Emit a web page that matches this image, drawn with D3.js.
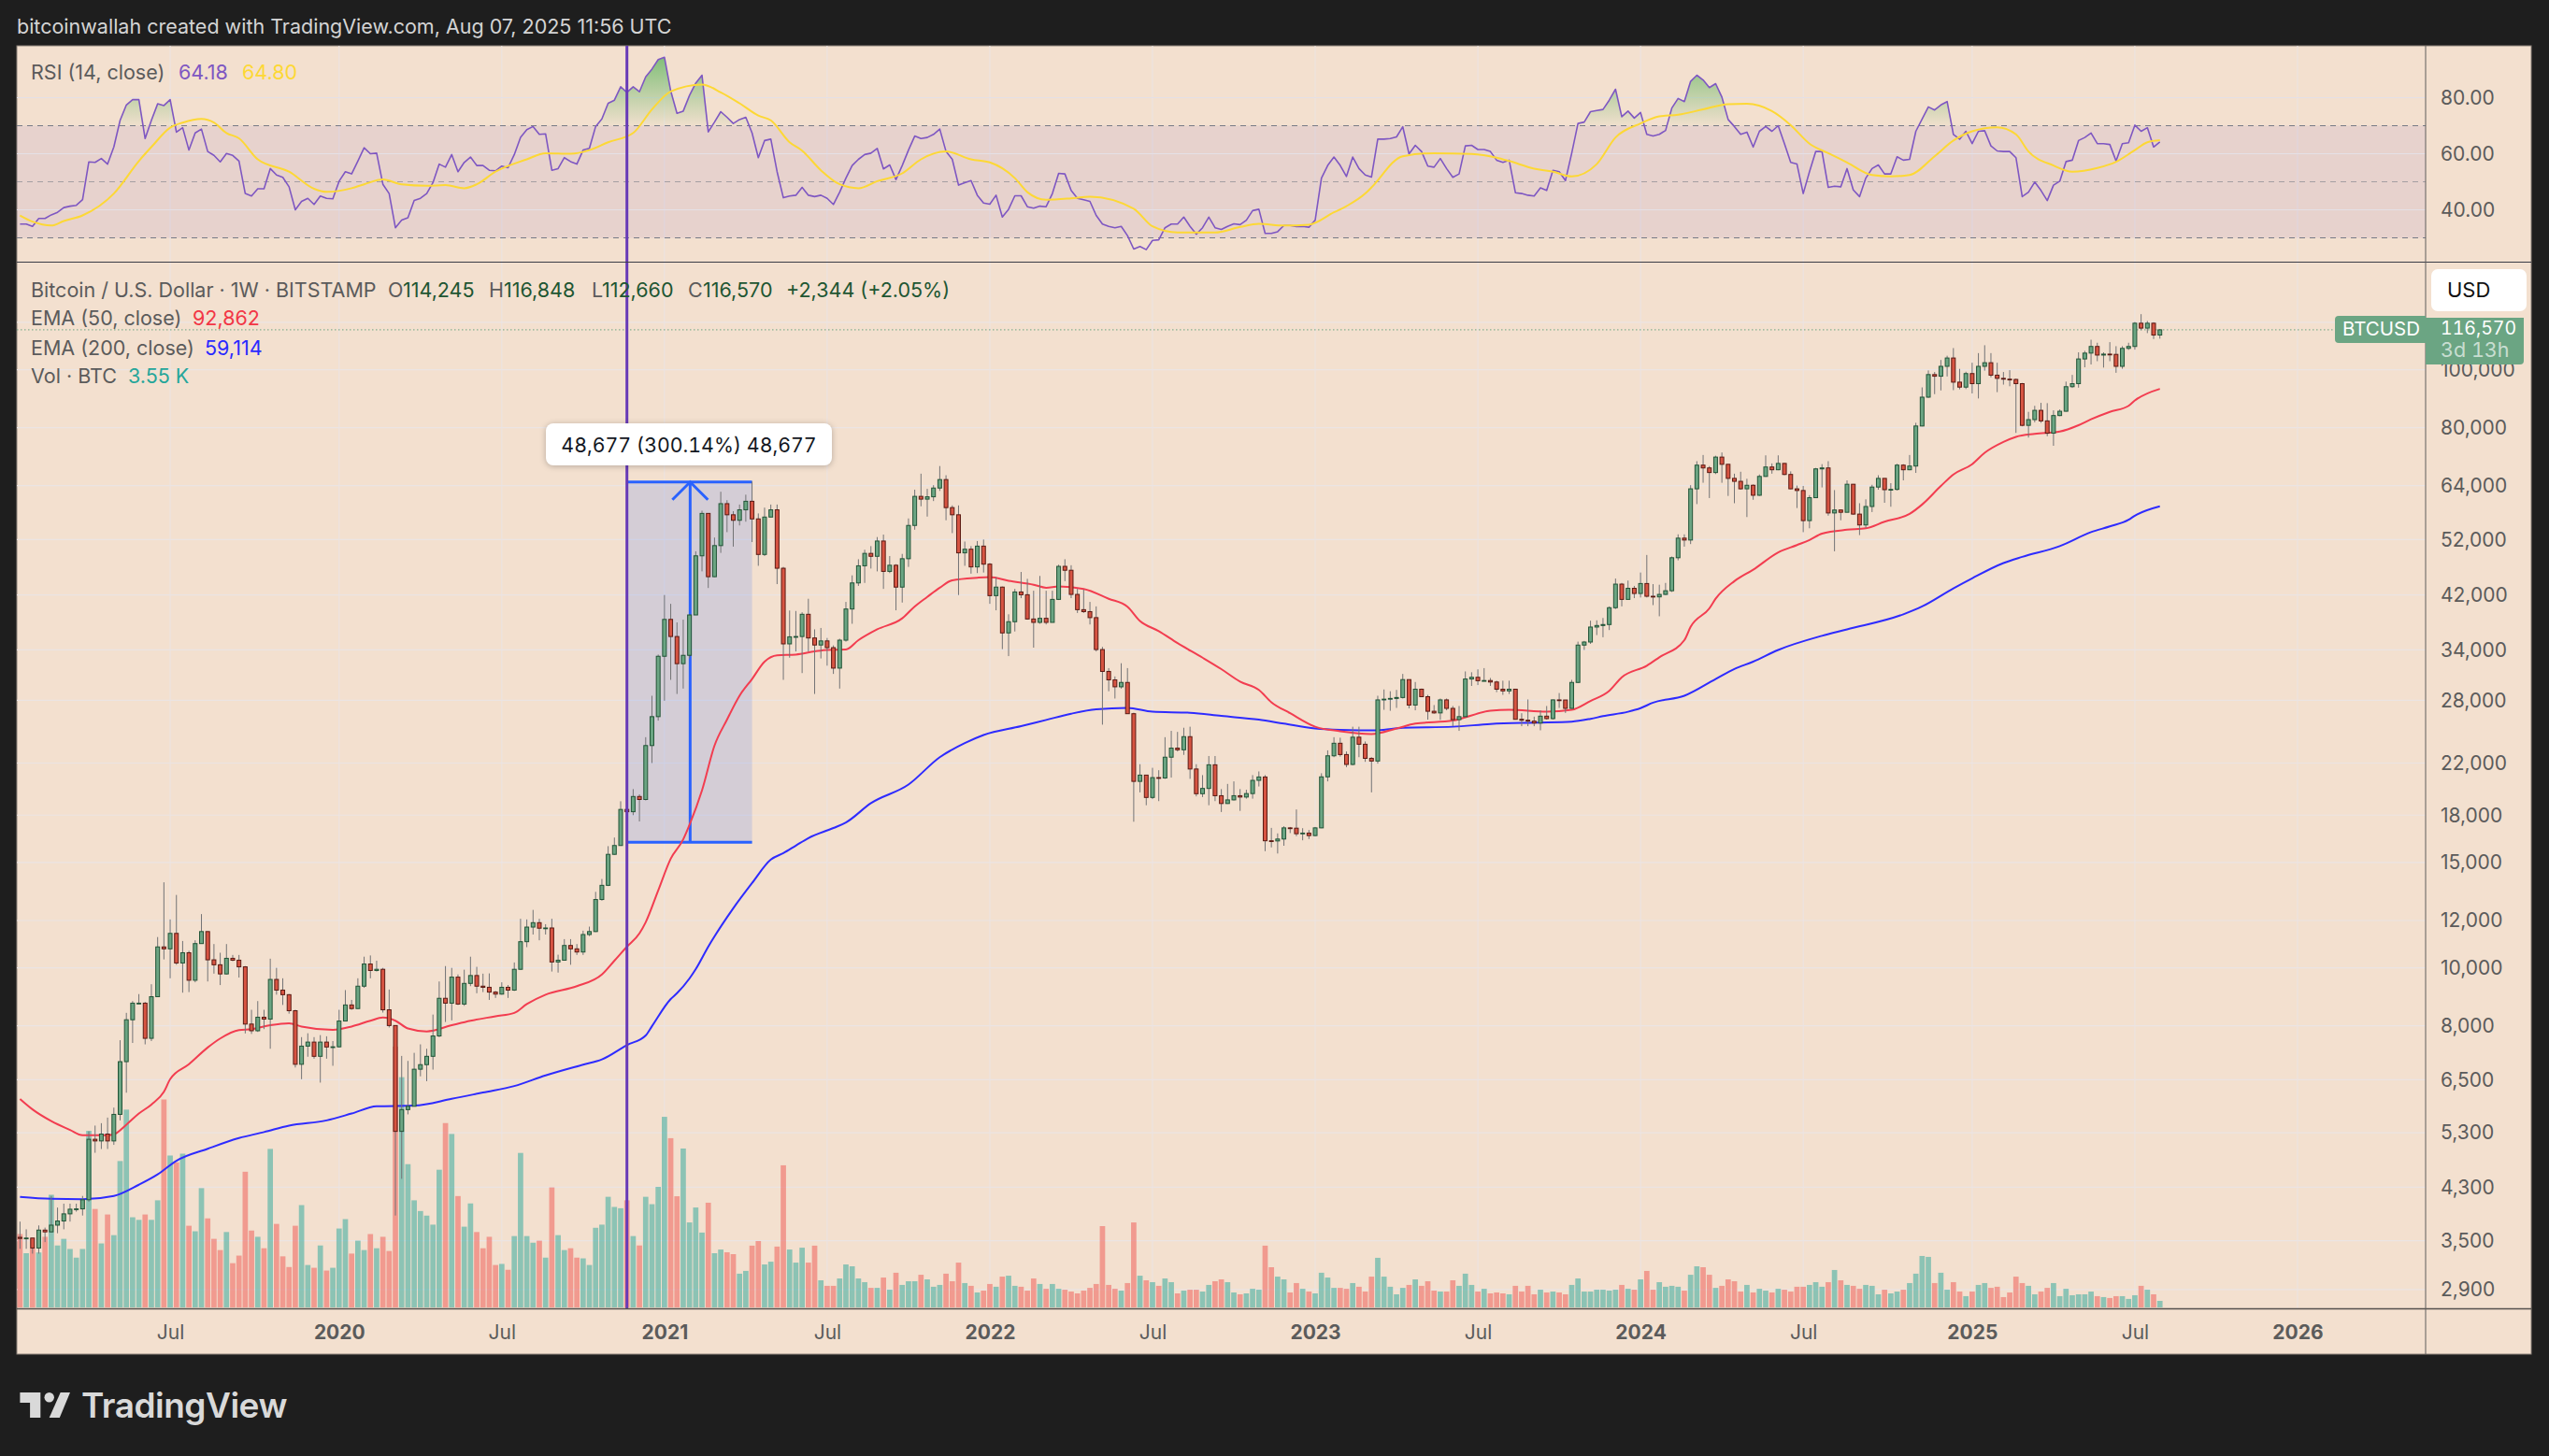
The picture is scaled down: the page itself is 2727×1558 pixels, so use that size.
<!DOCTYPE html>
<html><head><meta charset="utf-8">
<script src="https://cdn.jsdelivr.net/npm/d3@7/dist/d3.min.js"></script>
<style>html,body{margin:0;padding:0;background:#1e1e1e}svg{display:block}text{font-family:Inter,"Noto Sans",sans-serif}</style>
</head><body><div id="chart"></div>
<script>
const firstWeekUTC=[2019,0,14];
const firstOpen=3545;
const closes=[3530,3535,3402,3645,3620,3715,3775,3880,3950,3955,
4096,5170,5137,5275,5137,5690,6970,8190,8730,8730,
7625,8950,10840,10760,11420,10190,10600,9535,10980,11500,
10315,10120,9770,10375,10300,10040,8055,7850,8270,8210,
9565,9180,9020,8480,6900,7400,7515,7115,7515,7375,
7380,8150,8670,8550,9320,10150,9900,9945,8510,8010,
5330,5795,5870,6770,6890,7115,7695,8895,8730,9650,
8700,9420,9710,9320,9280,9110,9040,9280,9180,9945,
11060,11700,11900,11650,11660,10230,10300,10900,10760,10630,
11370,11500,13010,13740,15480,16015,18400,18240,19340,19120,
23530,26300,33180,38240,35800,32250,33300,38900,48840,57500,
45070,50800,59700,57200,56000,58300,60250,56300,49100,56700,
58300,46560,34800,35760,35800,39000,35600,34650,35200,34300,
31700,35300,39800,44000,47000,49300,48750,51700,46000,47100,
43300,48300,54900,61400,60750,61300,63400,65500,58800,57200,
49400,50100,46800,50700,47300,41900,43300,36300,37900,42500,
42050,38300,37800,38400,37800,41300,46900,46200,42100,39700,
39400,38500,34050,31300,30300,29500,30000,26600,20500,21000,
19270,20800,20770,22500,23300,23150,24350,21500,19550,19950,
21850,19400,18825,19090,19400,19300,19560,20580,20850,16310,
16300,16420,17140,17120,16760,16800,16640,17140,20860,22620,
23740,22730,21880,24300,23650,22400,22170,28050,28130,28210,
28310,30330,27500,29230,28400,26850,26680,28050,27150,26000,
26300,30400,30600,30200,30220,30050,29230,29040,29230,26030,
25940,25850,25660,26350,26100,28050,28040,27150,30000,34640,
35050,37130,37350,37490,40000,43800,41300,43100,42250,43900,
41800,41700,42100,42700,48480,52280,51900,63210,69240,68500,
67300,71420,69460,65800,65060,63210,64080,61660,66300,68750,
68020,69700,66800,63210,62800,55930,61090,68250,68500,57600,
58260,57750,64330,57350,55000,59050,63640,65800,63000,63070,
69240,68020,69000,80500,89950,98120,97500,101280,104580,95300,
93500,98500,94750,101280,102700,97900,96700,96400,96300,94750,
80700,82500,85500,82100,78300,83800,85200,93650,94750,104200,
106570,109330,105770,106150,106050,101280,108530,109330,119560,117340,
119560,114245,116570];
const highs=[3766,3656,3527,3711,3680,4157,3975,4035,4035,4035,
4157,5330,5450,5500,5620,5840,7570,8410,8800,9040,
8770,9390,11260,13900,12050,13240,11090,10680,11120,12300,
11500,10960,10600,10960,10510,10510,10070,8510,8800,8510,
10360,10000,9607,9040,8510,7660,7775,7660,7720,7685,
7545,8510,9180,8840,9607,10440,10490,10280,10000,9200,
8010,7125,6990,7210,7450,7325,8355,9490,10070,10000,
9750,9930,10440,10040,9780,9790,9150,9460,9360,10210,
12080,12050,12500,12080,11830,12080,10520,11170,11170,10960,
11540,11720,13400,14080,15975,16515,18990,19050,19900,19500,
24300,28500,33400,42000,40600,37800,38200,39000,49700,58100,
57500,52400,62500,60500,58000,59500,61800,65000,57500,58800,
59500,59500,46800,39570,39500,39300,41400,36800,37000,35600,
34600,35500,40900,45300,48200,50000,50700,52500,53000,48800,
47300,49200,56400,63000,67000,63200,64100,69000,66600,59300,
59300,51600,50700,51700,52000,47500,45000,43400,39000,43000,
45900,44700,42700,45200,42700,42700,47200,48200,47100,43000,
42900,40900,40200,34400,31700,30700,32300,31700,26700,21900,
21000,21600,21400,24300,24900,24800,25200,25300,21900,21000,
22600,22600,19900,20300,20500,19900,19850,21000,21300,21000,
17140,16780,17250,17200,18400,17120,17000,17200,21150,23100,
24300,24250,23000,25300,25300,23900,22500,28500,29200,29000,
29150,31000,30300,30050,29300,28600,27500,28200,28200,27400,
27400,31300,31200,31550,31700,30520,30200,30200,30200,29230,
26650,28100,26300,26950,27400,28100,28800,28000,30300,35100,
35200,38050,38100,38450,40200,44750,44000,44400,43500,45800,
49000,43800,43700,44000,48700,53050,53050,64100,70300,72000,
69000,71800,72700,69500,67000,67500,65700,64300,66800,71900,
69700,71900,69800,67600,64000,63900,61700,68500,69500,70300,
62900,58400,65300,64400,59800,60700,64200,66600,65800,64600,
69600,69500,72000,81500,93400,99700,99100,103800,105500,108660,
100300,99200,102700,106570,109850,106570,102700,99100,99800,96600,
95000,85000,87000,88000,87900,85500,85800,95500,98000,106900,
107500,112200,110900,106900,111170,109450,109450,110900,120100,123800,
120600,120000,116848];
const lows=[3391,3391,3329,3329,3480,3616,3601,3656,3766,3913,
3855,4065,4908,4980,4980,5060,5560,6185,7490,8700,
7450,7545,8950,10330,9607,10120,9090,9110,9460,10980,
9490,9780,9360,9750,10260,9635,7770,7755,7815,7900,
7325,9020,8670,8385,6815,6515,7103,7050,6430,7050,
6860,7360,8140,8510,8540,9260,9607,9860,8420,7950,
3855,4440,5690,5870,6587,6465,6760,7660,8120,8170,
8670,8640,9320,9070,9110,8840,8908,9020,8908,9150,
9930,10830,11370,11120,11370,9860,9820,10280,10120,10510,
10510,11300,11480,12950,13700,15450,16000,16500,18000,17570,
19050,22000,25900,27960,30300,28700,29300,32900,38900,46000,
43150,45000,49400,53500,50600,54900,55700,51500,47000,48800,
56700,43800,30300,33000,33800,31100,33800,28700,32900,32000,
31000,29300,35100,37600,43500,44000,46500,46000,43000,45700,
39600,40800,46800,54000,59100,56800,60300,62700,56000,53300,
42000,47000,45600,45700,45800,40600,39600,34100,33200,36500,
41500,38200,34300,37600,37500,37800,41200,44300,41500,39200,
39200,37500,33800,25500,29000,28200,29300,26600,17550,19650,
18700,19150,19000,20700,20800,23000,22700,20700,19350,19300,
18700,19000,18220,18800,19050,18300,19180,19180,20100,15670,
15900,15530,16000,16800,16600,16340,16420,16600,17120,20500,
22500,22550,21650,21800,22500,22100,19650,21950,27000,26900,
27200,28200,27150,26950,28350,26000,26600,25980,26950,25350,
24900,26300,29600,29700,30150,29600,28900,28600,28700,26000,
25350,25350,25350,24950,26000,26000,27200,26680,27100,29950,
34000,34800,36000,35700,36700,39800,40200,41300,41500,41600,
41600,40400,38700,42000,42500,48000,50600,51100,59600,64700,
61000,66900,64700,61500,59800,63000,56700,60600,61500,66200,
67000,67900,66600,63100,58700,53500,54300,61100,63550,57000,
49700,56000,57900,57200,52900,54400,57800,63000,59900,59000,
62800,65300,67900,67200,80400,89700,91000,92300,97400,92400,
92700,92800,91250,89500,99600,97100,91700,94400,93800,78400,
80400,77000,81650,81500,77400,74600,83600,85100,93200,93300,
100900,102000,103300,100800,103300,98800,100350,107900,108000,116400,
115100,112500,112660];
const volumesK=[39.8,29.4,31.9,29.8,38.3,61.1,33.6,37.2,31.7,27,
31.7,95.8,53.4,34.7,50.4,39.2,79.4,107.3,48.9,47.5,
50.4,47.5,58.1,112.8,82.4,78.7,83.4,44.3,41.3,64.7,
48.3,37.2,31.1,40.9,24,28.1,73.6,41.7,38.3,32.1,
86,45.3,27.7,21.9,44.3,55.5,23,21.5,33.6,20,
21.5,42.8,47.9,29.2,36.2,31.1,39.8,32.1,38.3,30.6,
141.5,124.9,77.7,58.1,52.3,49.8,44.9,74.7,100,94.1,
60.4,43.8,56.4,40.9,32.1,38.3,23,23.6,20.4,38.7,
83.8,38.7,35.1,36.2,27,65.1,39.2,31.1,32.1,27,
26.6,23,43.2,44.9,60,54.5,53.8,58.1,38.7,33.6,
60,56,65.4,103.4,91.8,60.3,86.2,46.1,54.2,40.6,
56.8,29.4,31.4,29.9,28.9,18.3,19.8,33.5,36,23.3,
24.8,33,77.1,31.4,24.3,32.4,24.3,33.5,14.7,11.7,
11.7,15.7,23.3,22.3,15.7,13.7,10.6,10.6,16.2,9.6,
18.8,12.2,14.2,14.2,17.7,15.2,11.2,12.2,18.3,14.2,
24.3,13.2,11.7,8.1,9.1,12.7,11.2,16.7,17.2,11.7,
11.2,9.1,15.7,12.7,10.1,12.7,10.1,9.6,8.6,7.6,
9.1,10.6,12.7,44.1,12.2,10.1,9.1,13.2,46.1,17.2,
14.7,13.7,11.7,15.7,13.7,7.6,9.1,9.6,9.6,8.6,
12.2,14.2,15.2,13.7,8.1,7.1,7.6,10.1,9.6,33.5,
21.8,16.7,15.2,8.1,13.2,10.1,8.6,7.6,18.8,16.2,
10.6,10.6,10.1,13.2,11.2,8.6,16.7,26.9,16.7,11.2,
7.1,10.6,12.2,15.2,11.7,14.2,9.1,8.6,8.6,14.7,
11.7,18.3,12.2,8.6,10.1,7.6,8.1,7.6,7.1,11.7,
8.6,11.7,7.1,9.6,8.1,8.6,8.1,7.1,12.2,15.7,
8.6,8.6,9.6,9.6,9.1,9.6,12.2,10.1,9.6,15.2,
19.8,9.6,13.7,11.2,11.7,11.2,9.1,17.7,22.3,21.8,
17.7,10.6,11.7,15.2,14.2,8.6,12.2,8.1,10.1,9.1,
8.1,10.1,9.6,8.6,11.2,11.2,12.2,13.7,11.2,13.7,
20.3,14.7,12.2,11.7,10.1,12.2,11.7,7.1,9.6,7.6,
8.6,9.6,13.2,18.3,27.9,27.4,13.2,18.8,9.6,13.7,
8.6,6.1,8.6,12.2,13.2,10.6,11.2,5.6,8.1,16.7,
13.2,11.7,7.1,8.6,10.6,13.2,6.1,10.1,6.6,7.1,
7.1,8.6,6.1,5.6,5.1,6.1,6.1,4.6,6.6,11.7,
9.6,7.1,3.55];
const rsiValues=[34.9,34.9,34.1,36.9,36.9,38.2,39.1,40.8,41.3,41.6,
43.6,57.1,56.9,58.3,56.3,62.4,71.9,77.4,79.3,79.3,
65.4,71.9,77.8,77.2,79.3,67.7,69.3,61.3,67.4,68.8,
60.8,59.4,57.1,60.1,59.4,57.4,45.8,44.9,47.5,47.5,
54.7,52.4,51.6,48.2,40,43,44.1,41.9,44.9,44.1,
43.9,50.2,53.6,52.8,57.4,62.1,60,60.2,49.1,45.8,
33.6,36.3,37.2,43.3,44.1,45.8,49.7,56.3,55.2,59.7,
53.6,56.9,58.8,55.8,55.8,54.1,53.9,55.6,55,59.7,
65.8,68.6,69.7,66.9,67.1,54.1,54.7,58.6,57.2,56.3,
61.3,61.9,69.7,72.4,78,79.1,83.9,81.9,83.9,82.1,
87.4,90.2,93.6,94.4,82.4,74.4,75.2,80.8,85.2,88,
67.8,71.3,75,73,70.8,72.2,73,67.4,58.6,64.7,
65.2,53.6,44.3,44.9,45.2,48,45.2,44.7,45.2,44.1,
41.9,46.3,51.3,55.8,58,59.7,60.2,61.9,54.6,56,
50.8,55.8,61.3,66.3,65.4,65.8,66.9,68.8,60.8,58,
48.8,49.7,50.4,45.2,42.4,42,45.2,37.4,40.2,45,
45,41.1,40.6,41.3,41.1,45.8,53,52.8,46.9,44.1,
43.6,43,38,34.9,34.1,33.6,34.1,30.8,26,26.9,
25.8,29.1,29.3,33.6,34.9,34.9,37.4,34.1,31.3,33.6,
37.4,33.6,33,34.1,35,34.7,36.3,39.7,40.2,31.6,
31.6,32.2,34.4,34.4,34,34.1,33.8,36.3,51.3,55.8,
58.8,55.8,51.9,58.8,54.7,52.4,51.7,65.2,65.2,65.4,
66,69.6,59.9,63,60.8,55.6,55.2,58.3,54.7,51.6,
52.8,62.8,63,61.5,61.5,60.8,57.7,56.9,57.7,46.1,
45.8,45.2,44.9,47.8,46.9,54.1,53.6,50.4,60.2,70.8,
71.3,75,75.4,75.8,79.1,83,73.2,75.2,72.7,74.7,
66.9,66.3,66.9,68.3,76.3,79.7,78.6,85.8,88,86.3,
83.6,85,80.2,72.2,69.7,66.9,67.7,62.4,68,69.7,
68,70,63.6,56.9,56.3,45.8,53.6,60.8,60.8,48,
48.4,48.2,54.7,47.1,44.7,51.3,54.7,56,52.8,52.8,
58.9,57.7,58,68,72.4,76.7,75.6,77.4,78.6,66.9,
65.2,68,63.6,68,68.2,62.8,61,60.8,60.8,58.6,
44.7,46.3,49.9,46.9,43.3,48.8,50.2,57.2,57.7,64.7,
65.8,67.4,63.6,63.6,63.3,57.4,63.6,63.9,70.2,68,
69.3,62.4,64.18];
const rsiMaWeeks=[1,3,6,8,11,16,20,22,25,27,30,32,34,36,39,44,48,50,54,56,59,62,66,69,72,74,77,82,85,89,92,95,99,102,105,110,113,116,119,121,124,126,129,132,135,138,142,145,149,153,156,160,162,165,169,172,179,182,186,192,196,199,203,207,211,213,216,217,222,227,233,237,239,243,246,249,253,256,260,263,266,270,274,277,281,284,287,290,293,297,300,303,307,310,313,317,320,322,326,329,333,336,339,341,343];
const rsiMaValues=[38,35.8,34.4,36,38,45.8,57.4,62.4,69.3,71.1,72.4,71.1,67.4,65.5,58,53.6,47.5,46.4,47.7,49.1,50.8,49.1,48.6,48.8,47.7,49.1,53.6,58,60.2,60,61.3,64.1,67.4,75.8,82.2,84.7,81.9,78,73.6,71.9,64.1,61.1,54.1,49.1,47.7,50.2,53,58,60.8,58,56.9,51.3,46.3,43.6,44.1,44.7,40.4,34.1,31.9,31.9,33.9,35,34.4,34.7,39.1,41.3,45.8,48,59.1,60.2,59.9,58.6,57.4,54.7,53.6,51.9,56.3,65.8,70.8,73.3,73.9,75.8,77.7,77.8,75.2,70.2,63.6,60.2,56.9,52.4,51.9,52.4,59.1,64.7,68,69.4,66.9,60.8,55.8,53.6,54.9,57.1,61.3,64.1,64.8];
const ema50Weeks=[1,3,6,9,11,15,16,18,20,22,24,25,28,31,33,36,38,41,44,46,51,54,57,59,61,63,66,70,73,77,80,82,85,90,94,96,98,100,101,103,105,107,108,110,112,114,116,118,120,122,125,128,130,133,135,138,142,144,146,148,150,154,156,159,163,165,167,171,175,178,180,183,186,190,193,196,199,201,204,208,212,217,221,224,230,236,239,245,249,252,255,257,261,263,267,268,271,272,275,278,282,285,287,289,293,296,299,303,305,308,310,313,315,318,320,323,327,330,332,335,338,339,343];
const ema50Values=[6037,5800,5545,5360,5252,5252,5270,5470,5708,5910,6205,6515,6900,7360,7620,7870,7900,8020,8080,7980,7880,7980,8160,8260,8160,7920,7830,8020,8160,8300,8410,8700,9020,9320,9750,10280,10850,11420,11920,13470,15220,16400,17340,19800,23530,26000,28500,30400,32500,33300,33400,33800,34000,34050,35300,36800,38400,40200,41700,43200,44450,44900,45000,44360,43700,43200,43400,43000,41400,40150,38000,36550,34900,33000,31580,30100,29150,27800,26650,25300,24870,24600,25130,25600,25900,26900,27000,26800,27000,27940,29050,30600,32000,33050,35300,37150,39900,41400,44300,46300,49500,50900,51900,53200,54000,54300,55700,57400,59500,63900,66800,69500,72600,75700,77200,78100,78800,80750,82600,85000,87000,88800,92862];
const ema200Weeks=[1,6,11,16,20,23,26,31,36,40,44,50,54,58,64,70,75,80,85,91,94,98,101,102,105,106,108,109,111,115,118,121,123,125,127,131,133,137,143,148,152,155,161,165,169,173,178,182,188,193,199,203,208,212,218,222,230,236,243,249,252,254,258,260,262,267,272,275,278,282,289,293,302,305,310,313,318,321,327,332,335,338,339,343];
const ema200Values=[4143,4112,4105,4157,4340,4516,4760,4985,5195,5315,5450,5560,5708,5870,5885,6040,6190,6345,6610,6890,7030,7430,7710,7990,8870,9070,9600,9950,10850,12580,13860,15170,15550,16010,16480,17130,17500,18850,20250,22500,23750,24500,25350,25970,26600,27050,27200,26800,26700,26370,26000,25600,25130,25000,24950,25200,25300,25560,25700,25800,26080,26350,26800,27180,27750,28500,30400,31600,32500,34000,35900,36800,39000,40200,43100,44800,47500,48650,50700,53500,54700,56100,57000,59114];
const priceTicks=[120000,100000,80000,64000,52000,42000,34000,28000,22000,18000,15000,12000,10000,8000,6500,5300,4300,3500,2900];
const hiddenPriceLabels=[120000];
const rsiTicks=[80,60,40];
const rsiLevels=[70,50,30];
const timeTicks=[["2019-07-01","Jul"],["2020-01-06","2020"],["2020-07-06","Jul"],["2021-01-04","2021"],["2021-07-05","Jul"],["2022-01-03","2022"],["2022-07-04","Jul"],["2023-01-02","2023"],["2023-07-03","Jul"],["2024-01-01","2024"],["2024-07-01","Jul"],["2025-01-06","2025"],["2025-07-07","Jul"],["2026-01-05","2026"]];
const cursorWeek=98;
const positionWeeks=[98,118];
const positionPrices=[16218,64895];
const lastPrice=116570;

const W=2727,H=1558;
const L=18,R=2595,OUTER=2708,TOP=49,RSIB=280,MAINB=1400,BOT=1449;
const C={bg:"#1e1e1e",pane:"#f3e0cf",grid:"#ebe4e3",up:"#6ba583",dn:"#d75442",upB:"#225437",dnB:"#5b1a13",wick:"#737375",
 txt:"#5b5b5b",rsi:"#7e57c2",ma:"#fdd835",e50:"#f23d50",e200:"#2e2bff",pur:"#673ab7",blue:"#2962ff"};

const weekDate=k=>new Date(Date.UTC(firstWeekUTC[0],firstWeekUTC[1],firstWeekUTC[2]+7*(k-1)));
const candles=closes.map((c,k)=>({i:k+1,d:weekDate(k+1),o:k?closes[k-1]:firstOpen,h:highs[k],l:lows[k],c,v:volumesK[k],r:rsiValues[k]}));

const x=d3.scaleUtc().domain([Date.UTC(2019,0,7),Date.UTC(2025,7,4)]).range([14.7,2310.7]);
const y=d3.scaleLog().domain([2697,150980]).range([1400,281]);
const yr=d3.scaleLinear().domain([80,40]).range([104.5,224.5]);
const yv=d3.scaleLinear().domain([0,507]).range([1399,399]);

const svg=d3.select("#chart").append("svg").attr("width",W).attr("height",H).attr("viewBox",`0 0 ${W} ${H}`);
svg.append("rect").attr("width",W).attr("height",H).attr("fill",C.bg);
const defs=svg.append("defs");
defs.append("clipPath").attr("id","mainClip").append("rect").attr("x",L).attr("y",281).attr("width",R-L).attr("height",MAINB-281);
defs.append("clipPath").attr("id","rsiClip").append("rect").attr("x",L).attr("y",TOP).attr("width",R-L).attr("height",RSIB-TOP);
defs.append("clipPath").attr("id","obClip").append("rect").attr("x",L).attr("y",TOP).attr("width",R-L).attr("height",yr(70)-TOP);
const gr=defs.append("linearGradient").attr("id","obGrad").attr("gradientUnits","userSpaceOnUse").attr("x1",0).attr("x2",0).attr("y1",yr(96)).attr("y2",yr(70));
gr.append("stop").attr("offset",0).attr("stop-color","#4caf50").attr("stop-opacity",.72);
gr.append("stop").attr("offset",1).attr("stop-color","#4caf50").attr("stop-opacity",.02);

svg.append("rect").attr("x",L).attr("y",TOP).attr("width",OUTER-L).attr("height",BOT-TOP).attr("fill",C.pane).attr("stroke","#8a8078").attr("stroke-width",1);

// vertical grid
svg.append("g").selectAll("line").data(timeTicks).join("line")
 .attr("x1",d=>x(new Date(d[0]+"T00:00:00Z"))).attr("x2",d=>x(new Date(d[0]+"T00:00:00Z"))).attr("y1",TOP).attr("y2",MAINB)
 .attr("stroke",C.grid).attr("stroke-width",1);
// horizontal grid
svg.append("g").selectAll("line").data(priceTicks).join("line").attr("x1",L).attr("x2",R).attr("y1",d=>y(d)).attr("y2",d=>y(d)).attr("stroke",C.grid).attr("stroke-width",1.2);

// RSI pane
const rp=svg.append("g").attr("clip-path","url(#rsiClip)");
rp.append("rect").attr("x",L).attr("width",R-L).attr("y",yr(70)).attr("height",yr(30)-yr(70)).attr("fill","#7e57c2").attr("fill-opacity",.1);
rp.append("g").selectAll("line").data(rsiTicks).join("line").attr("x1",L).attr("x2",R).attr("y1",d=>yr(d)).attr("y2",d=>yr(d)).attr("stroke","#e4e0e6").attr("stroke-width",1.2);
rp.append("g").selectAll("line").data(rsiLevels).join("line").attr("x1",L).attr("x2",R).attr("y1",d=>yr(d)).attr("y2",d=>yr(d))
 .attr("stroke","#787b86").attr("stroke-opacity",d=>d===50?.6:1).attr("stroke-width",1).attr("stroke-dasharray","6 5");
const ob=d3.area().x(d=>x(d.d)).y0(yr(70)).y1(d=>yr(d.r));
rp.append("path").datum(candles).attr("clip-path","url(#obClip)").attr("fill","url(#obGrad)").attr("d",ob);
const maPts=rsiMaWeeks.map((w,k)=>({d:weekDate(w),v:rsiMaValues[k]}));
rp.append("path").datum(candles).attr("fill","none").attr("stroke",C.rsi).attr("stroke-width",1.6).attr("stroke-linejoin","round")
 .attr("d",d3.line().x(d=>x(d.d)).y(d=>yr(d.r)));
rp.append("path").datum(maPts).attr("fill","none").attr("stroke",C.ma).attr("stroke-width",2).attr("stroke-linejoin","round")
 .attr("d",d3.line().curve(d3.curveMonotoneX).x(d=>x(d.d)).y(d=>yr(d.v)));

// main pane
const mp=svg.append("g").attr("clip-path","url(#mainClip)");
const isUp=d=>d.c>=d.o;
mp.append("g").selectAll("rect").data(candles).join("rect").attr("x",d=>x(d.d)-2.85).attr("width",5.7)
 .attr("y",d=>yv(d.v)).attr("height",d=>yv(0)-yv(d.v)).attr("fill",d=>isUp(d)?"#26a69a":"#ef5350").attr("fill-opacity",.5);
// position tool
const px0=x(weekDate(positionWeeks[0])),px1=x(weekDate(positionWeeks[1]));
const pxm=(px0+px1)/2+.7;
mp.append("rect").attr("x",px0).attr("width",px1-px0).attr("y",y(positionPrices[1])).attr("height",y(positionPrices[0])-y(positionPrices[1])).attr("fill",C.blue).attr("fill-opacity",.15);
mp.append("g").selectAll("line").data(positionPrices).join("line").attr("x1",px0).attr("x2",px1).attr("y1",d=>y(d)).attr("y2",d=>y(d)).attr("stroke",C.blue).attr("stroke-width",3);
mp.append("line").attr("x1",pxm).attr("x2",pxm).attr("y1",y(positionPrices[0])).attr("y2",y(positionPrices[1])).attr("stroke",C.blue).attr("stroke-width",3);
mp.append("path").attr("d",`M${pxm-19},${y(positionPrices[1])+19}L${pxm},${y(positionPrices[1])}L${pxm+19},${y(positionPrices[1])+19}`).attr("fill","none").attr("stroke",C.blue).attr("stroke-width",3);
// last price dotted line
mp.append("line").attr("x1",L).attr("x2",2498).attr("y1",y(lastPrice)).attr("y2",y(lastPrice)).attr("stroke",C.up).attr("stroke-width",1).attr("stroke-dasharray","1.5 2.5");
// cursor line
svg.append("line").attr("x1",x(weekDate(cursorWeek))).attr("x2",x(weekDate(cursorWeek))).attr("y1",TOP).attr("y2",MAINB).attr("stroke",C.pur).attr("stroke-width",3);
// EMAs
const eLine=d3.line().curve(d3.curveMonotoneX).x(d=>x(d.d)).y(d=>y(d.v));
mp.append("path").datum(ema200Weeks.map((w,k)=>({d:weekDate(w),v:ema200Values[k]}))).attr("fill","none").attr("stroke",C.e200).attr("stroke-width",2).attr("d",eLine);
mp.append("path").datum(ema50Weeks.map((w,k)=>({d:weekDate(w),v:ema50Values[k]}))).attr("fill","none").attr("stroke",C.e50).attr("stroke-width",2).attr("d",eLine);
// candles
const cg=mp.append("g");
cg.selectAll("line").data(candles).join("line").attr("x1",d=>x(d.d)).attr("x2",d=>x(d.d)).attr("y1",d=>y(d.h)).attr("y2",d=>y(d.l)).attr("stroke",C.wick).attr("stroke-width",1);
cg.selectAll("rect").data(candles).join("rect").attr("x",d=>x(d.d)-2).attr("width",4)
 .attr("y",d=>y(Math.max(d.o,d.c))).attr("height",d=>Math.max(.8,Math.abs(y(d.o)-y(d.c))))
 .attr("fill",d=>isUp(d)?C.up:C.dn).attr("stroke",d=>isUp(d)?C.upB:C.dnB).attr("stroke-width",1);

// pane borders
const rule=(x1,y1,x2,y2,c,w)=>svg.append("line").attr("x1",x1).attr("y1",y1).attr("x2",x2).attr("y2",y2).attr("stroke",c).attr("stroke-width",w||1);
rule(L,280.5,OUTER,280.5,"#3a3c46",1.2);
rule(L,1400.5,OUTER,1400.5,"#55504d",1.6);
rule(R,TOP,R,BOT,"#5f5c5c",1);

// axes
const axisStyle=g=>{g.select(".domain").remove();g.selectAll(".tick line").remove();g.selectAll("text").attr("fill",C.txt).attr("font-size",21).style("font-family","Inter");};
const labelledPrices=priceTicks.filter(p=>!hiddenPriceLabels.includes(p));
svg.append("g").attr("transform",`translate(${R},0)`).call(d3.axisRight(y).tickValues(labelledPrices).tickFormat(d3.format(",")).tickSize(0).tickPadding(16)).call(axisStyle);
svg.append("g").attr("transform",`translate(${R},0)`).call(d3.axisRight(yr).tickValues(rsiTicks).tickFormat(d3.format(".2f")).tickSize(0).tickPadding(16)).call(axisStyle);
const tAxis=svg.append("g").attr("transform",`translate(0,1418)`).call(d3.axisBottom(x).tickValues(timeTicks.map(d=>new Date(d[0]+"T00:00:00Z"))).tickFormat((d,k)=>timeTicks[k][1]).tickSize(0).tickPadding(0)).call(axisStyle);
tAxis.selectAll("text").attr("font-weight",(d,k)=>timeTicks[k][1]==="Jul"?400:700);

// text helper
const T=(s,xx,yy,c,o={})=>{const t=svg.append("text").text(s).attr("x",xx).attr("y",yy).attr("dy",".36em").attr("fill",c).attr("font-size",o.fs||21.5).attr("font-weight",o.fw||400).attr("text-anchor",o.a||"start");if(o.tnum)t.style("font-variant-numeric","tabular-nums");return t;};
T("bitcoinwallah created with TradingView.com, Aug 07, 2025 11:56 UTC",18,28,"#d4d4d4",{fs:21.5});
T("RSI (14, close)",33,77.5,C.txt);
T("64.18",191,77.5,C.rsi);T("64.80",259,77.5,C.ma);
T("Bitcoin / U.S. Dollar · 1W · BITSTAMP",33,310,C.txt);
const hl=[["O","114,245",415],["H","116,848",523],["L","112,660",633],["C","116,570",736]];
hl.forEach(([a,b,xx])=>{T(a,xx,310,C.txt);T(b,xx+(a==="L"?11:16),310,"#1e5632");});
T("+2,344 (+2.05%)",841,310,"#1e5632");
T("EMA (50, close)",33,340,C.txt);T("92,862",206,340,"#f23645");
T("EMA (200, close)",33,372,C.txt);T("59,114",219,372,"#2a2aff");
T("Vol · BTC",33,402,C.txt);T("3.55 K",137,402,"#26a69a");

// tooltip
svg.append("rect").attr("x",584).attr("y",453).attr("width",306).attr("height",45).attr("rx",8).attr("fill","#fff").style("filter","drop-shadow(0 1px 3px rgba(0,0,0,.25))");
T("48,677 (300.14%) 48,677",737,476,"#131722",{a:"middle",fs:21.3,tnum:true});

// price tag
svg.append("path").attr("d","M2595,338H2502a4,4 0 0 0 -4,4V363a4,4 0 0 0 4,4H2595Z").attr("fill",C.up);
svg.append("path").attr("d","M2595,340H2700V386a4,4 0 0 1 -4,4H2595Z").attr("fill",C.up);
T("BTCUSD",2506,352,"#fff",{fs:20.5});
T("116,570",2611,351,"#fff",{fs:19.5,tnum:true});
T("3d 13h",2611,374,"#ffffff",{fs:21.5,tnum:true}).attr("fill-opacity",.65);
svg.append("rect").attr("x",2601).attr("y",288).attr("width",102).attr("height",45).attr("rx",7).attr("fill","#fff");
T("USD",2618,310,"#111",{fs:22});

// footer logo
const lg=svg.append("g").attr("fill","#d9d9d9");
lg.append("path").attr("d","M21.4,1490H43.3V1517H32.1V1501H21.4Z");
lg.append("circle").attr("cx",52.7).attr("cy",1495.2).attr("r",5.2);
lg.append("path").attr("d","M64.7,1490H75L63.8,1517H52.7Z");
svg.append("text").text("TradingView").attr("x",87).attr("y",1504).attr("dy",".36em").attr("fill","#d9d9d9").attr("font-size",37).attr("font-weight",600).attr("letter-spacing","-0.5");
</script></body></html>
